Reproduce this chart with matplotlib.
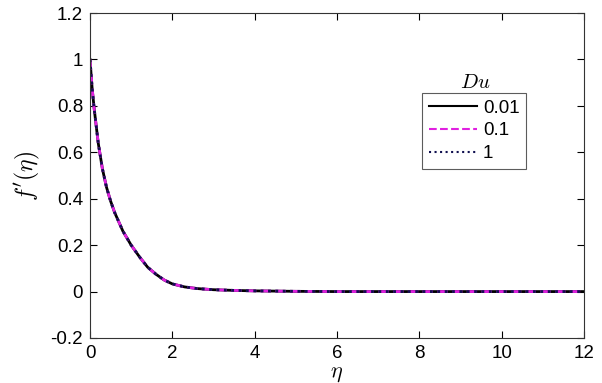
import matplotlib
matplotlib.use('Agg')
import matplotlib.pyplot as plt

# values (the three Du curves overlap almost exactly)
eta = [0, 0.05, 0.1, 0.2, 0.3, 0.4, 0.5, 0.6, 0.8, 1.0, 1.2, 1.4, 1.6, 1.8, 2.0, 2.3, 2.6, 3.0, 3.5, 4.0, 5.0, 6.0, 8.0, 10.0, 12.0]
fp_001 = [1.0, 0.88, 0.79, 0.64, 0.53, 0.45, 0.39, 0.34, 0.26, 0.2, 0.15, 0.105, 0.075, 0.05, 0.033, 0.02, 0.013, 0.008, 0.005, 0.003, 0.001, 0.0, 0.0, 0.0, 0.0]
fp_01 = [1.0, 0.88, 0.79, 0.64, 0.53, 0.45, 0.39, 0.34, 0.26, 0.2, 0.15, 0.105, 0.075, 0.05, 0.033, 0.02, 0.013, 0.008, 0.005, 0.003, 0.001, 0.0, 0.0, 0.0, 0.0]
fp_1 = [1.0, 0.88, 0.79, 0.64, 0.53, 0.45, 0.39, 0.34, 0.26, 0.2, 0.15, 0.105, 0.075, 0.05, 0.033, 0.02, 0.013, 0.008, 0.005, 0.003, 0.001, 0.0, 0.0, 0.0, 0.0]
labels = ['0.01', '0.1', '1']

plt.rcParams['font.family'] = ['Liberation Sans', 'DejaVu Sans']
plt.rcParams['mathtext.fontset'] = 'cm'

fig = plt.figure(figsize=(6.02, 3.83), dpi=100)
ax = fig.add_axes([90/602, 1 - 338/383, (584-90)/602, (338-13)/383])

ax.plot(eta, fp_001, color='black', lw=2, ls='-', label=labels[0])
ax.plot(eta, fp_01, color='#e020e0', lw=2, ls='--', label=labels[1])
ax.plot(eta, fp_1, color='#101050', lw=2, ls=':', label=labels[2])

ax.set_xlim(0, 12)
ax.set_ylim(-0.2, 1.2)
ax.set_xticks([0, 2, 4, 6, 8, 10, 12])
ax.set_yticks([-0.2, 0, 0.2, 0.4, 0.6, 0.8, 1, 1.2])
ax.set_yticklabels(['-0.2', '0', '0.2', '0.4', '0.6', '0.8', '1', '1.2'])
ax.tick_params(direction='in', top=True, right=True, labelsize=13.5, length=5, width=0.8, pad=5)
for s in ax.spines.values():
    s.set_linewidth(0.8)
    s.set_color('#333333')

ax.set_xlabel(r'$\eta$', fontsize=16, labelpad=1)
ax.set_ylabel(r"$f'(\eta)$", fontsize=17, labelpad=6)

leg = ax.legend(loc='upper left', bbox_to_anchor=((422-90)/494, (338-93)/325), fontsize=13.5,
                handlelength=2.6, frameon=True, fancybox=False, borderpad=0.35,
                labelspacing=0.3, handletextpad=0.3, borderaxespad=0)
for line in leg.get_lines():
    line.set_linewidth(1.5)
leg.get_frame().set_edgecolor('#333333')
leg.get_frame().set_linewidth(0.8)
ax.text((475-90)/494, (338-82)/325, r'$Du$', transform=ax.transAxes, fontsize=15,
        ha='center', va='center')

fig.savefig('out.png', dpi=100)
